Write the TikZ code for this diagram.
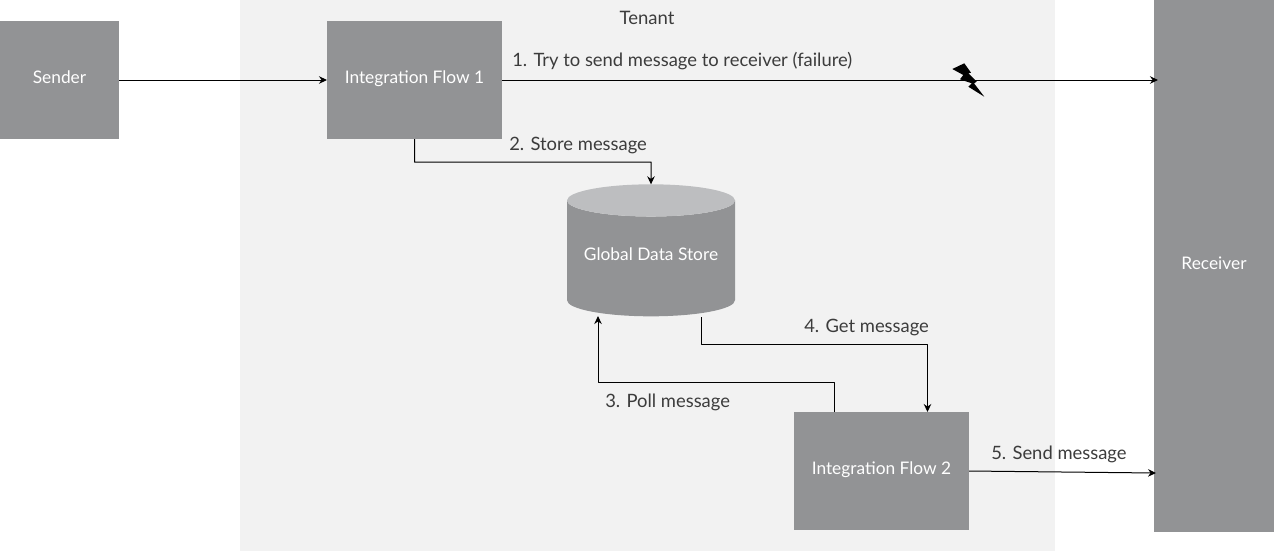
\documentclass[tikz,border=0pt]{standalone}
\usepackage{fontspec}
\setmainfont{Lato}
\usetikzlibrary{shapes.geometric,arrows.meta}
\definecolor{boxgrey}{HTML}{929395}
\definecolor{topgrey}{HTML}{BDBEC0}
\definecolor{tenantgrey}{HTML}{F2F2F2}
\definecolor{labelgrey}{HTML}{3C3C3C}
\tikzset{
	block/.style={fill=boxgrey,text=white,inner sep=0pt,outer sep=0pt,text height=9pt,text depth=4.5pt},
	lbl/.style={text=labelgrey,anchor=west,inner sep=0pt,font=\fontsize{13.8}{16}\selectfont},
	conn/.style={-{Stealth[length=6pt,width=5.6pt]},line width=0.75pt}
}
\begin{document}
\begin{tikzpicture}[line join=round,font=\fontsize{13}{15}\selectfont,x=0.75pt,y=-0.75pt]
	\useasboundingbox (0,0) rectangle (1274,551);
	% vung tenant
	\fill[tenantgrey] (240,0) rectangle (1055,551);
	\node[text=labelgrey,font=\fontsize{13.9}{16}\selectfont] (tenant) at (647,18) {Tenant};
	% cac khoi
	\node[block,minimum width=89.25pt,minimum height=88.5pt] (sender) at (59.5,80) {Sender};
	\node[block,minimum width=131.25pt,minimum height=88.5pt] (flowone) at (414.5,80) {Integration Flow 1};
	\node[block,minimum width=131.25pt,minimum height=88.5pt] (flowtwo) at (881.5,471) {Integration Flow 2};
	\node[block,minimum width=90pt,minimum height=399pt] (receiver) at (1214,266) {Receiver};
	% kho du lieu
	\node[cylinder,shape border rotate=90,shape aspect=0.24,draw=none,cylinder uses custom fill,
		cylinder body fill=boxgrey,cylinder end fill=topgrey,text=white,inner sep=0pt,outer sep=0pt,
		text height=9pt,text depth=6.7pt,
		minimum width=126pt,minimum height=99pt] (store) at (651,258.5) {Global Data Store};
	\path
	(598,316) coordinate (storein)
	(701,317) coordinate (storeout)
	(834.5,382) coordinate (pollup)
	(927.5,344) coordinate (getdown)
	(1158,80) coordinate (failend)
	(1156,473) coordinate (sendend);
	% cac mui ten
	\draw[conn] (sender.east|-flowone.east)--(flowone.west);
	\draw[conn] (flowone.east)--(failend);
	\draw[conn] (flowone.south)|-(651,162)--(store.north);
	\draw[conn] (pollup|-flowtwo.north)--(pollup)-|(storein);
	\draw[conn] (storeout)|-(getdown)--(getdown|-flowtwo.north);
	\draw[conn] (flowtwo.east)--(sendend);
	% tia set
	\fill[black] (952.3,69)--(964.3,63.3)--(971,72.7)--(968.3,73.3)--(976.7,81.7)--(974,83.3)--(984.3,96.7)--(968.3,86.7)--(971.7,83.3)--(960,79.3)--(963.3,75)--cycle;
	% nhan
	\node[lbl] (sendone) at (512,61) {1. Try to send message to receiver (failure)};
	\node[lbl] (storemsg) at (509,145.5) {2. Store message};
	\node[lbl] (pollmsg) at (605,402.5) {3. Poll message};
	\node[lbl] (getmsg) at (804,327.5) {4. Get message};
	\node[lbl] (sendmsg) at (991,454.5) {5. Send message};
\end{tikzpicture}
\end{document}
